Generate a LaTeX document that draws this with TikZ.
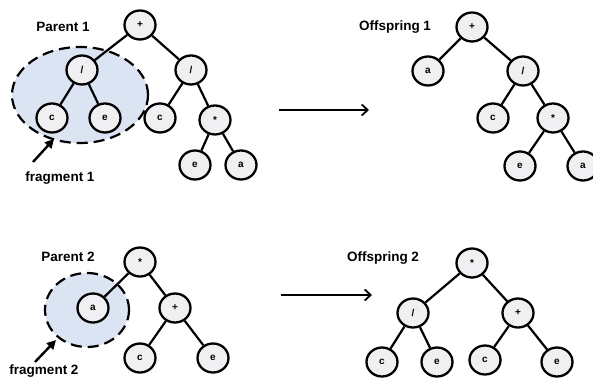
\documentclass[tikz,border=0pt]{standalone}
\usepackage{fontspec}
\setmainfont{Liberation Sans}
\usetikzlibrary{arrows.meta,shapes.geometric}
\definecolor{fragfill}{RGB}{218,228,242}
\definecolor{nodefill}{RGB}{240,240,242}
\begin{document}
\begin{tikzpicture}[x=1pt,y=-1pt,
  tn/.style={ellipse,draw=black,line width=2.3pt,fill=nodefill,minimum width=31pt,minimum height=29pt,inner sep=0pt,font=\bfseries\fontsize{10}{10}\selectfont},
  edge/.style={line width=2.2pt},
  lbl/.style={font=\bfseries\fontsize{13.5}{15}\selectfont,inner sep=0pt},
  frag/.style={draw=black,dash pattern=on 11pt off 6pt,line width=2.2pt,fill=fragfill},
  fragarrow/.style={line width=2.4pt,-{Triangle[length=9pt,width=9pt]}},
  bigarrow/.style={line width=1.8pt,-{Straight Barb[length=6pt,width=11pt]}}]
\useasboundingbox (0,0) rectangle (593,379);
% fragments
\node[frag,ellipse,minimum width=136pt,minimum height=96pt] (f1) at (80,95) {};
\node[frag,ellipse,minimum width=84pt,minimum height=74pt] (f2) at (87,310) {};
% Parent 1
\node[lbl] (p1) at (63,27) {Parent 1};
\node[tn] (a1) at (140,25) {+};
\node[tn] (a2) at (82,70) {/};
\node[tn] (a3) at (191,70) {/};
\node[tn] (a4) at (52,118) {c};
\node[tn] (a5) at (105,118) {e};
\node[tn] (a6) at (160,118) {c};
\node[tn] (a7) at (215,120) {*};
\node[tn] (a8) at (195,165) {e};
\node[tn] (a9) at (241,165) {a};
\draw[edge] (a1) -- (a2); \draw[edge] (a1) -- (a3);
\draw[edge] (a2) -- (a4); \draw[edge] (a2) -- (a5);
\draw[edge] (a3) -- (a6); \draw[edge] (a3) -- (a7);
\draw[edge] (a7) -- (a8); \draw[edge] (a7) -- (a9);
\node[lbl] (fl1) at (60,178) {fragment 1};
\coordinate (fa1) at (33,162);
\coordinate (fb1) at (54,139);
\draw[fragarrow] (fa1) -- (fb1);
% arrow 1
\coordinate (m1s) at (279,110);
\coordinate (m1e) at (369,110);
\draw[bigarrow] (m1s) -- (m1e);
% Offspring 1
\node[lbl] (o1) at (395,27) {Offspring 1};
\node[tn] (b1) at (472,27) {+};
\node[tn] (b2) at (428,71) {a};
\node[tn] (b3) at (523,71) {/};
\node[tn] (b4) at (493,118) {c};
\node[tn] (b5) at (553,118) {*};
\node[tn] (b6) at (520,166) {e};
\node[tn] (b7) at (583,166) {a};
\draw[edge] (b1) -- (b2); \draw[edge] (b1) -- (b3);
\draw[edge] (b3) -- (b4); \draw[edge] (b3) -- (b5);
\draw[edge] (b5) -- (b6); \draw[edge] (b5) -- (b7);
% Parent 2
\node[lbl] (p2) at (68,257) {Parent 2};
\node[tn] (c1) at (140,262) {*};
\node[tn] (c2) at (93,308) {a};
\node[tn] (c3) at (175,308) {+};
\node[tn] (c4) at (140,358) {c};
\node[tn] (c5) at (213,358) {e};
\draw[edge] (c1) -- (c2); \draw[edge] (c1) -- (c3);
\draw[edge] (c3) -- (c4); \draw[edge] (c3) -- (c5);
\node[lbl] (fl2) at (44,371) {fragment 2};
\coordinate (fa2) at (35,362);
\coordinate (fb2) at (56,340);
\draw[fragarrow] (fa2) -- (fb2);
% arrow 2
\coordinate (m2s) at (281,295);
\coordinate (m2e) at (372,295);
\draw[bigarrow] (m2s) -- (m2e);
% Offspring 2
\node[lbl] (o2) at (383,258) {Offspring 2};
\node[tn] (d1) at (472,263) {*};
\node[tn] (d2) at (413,313) {/};
\node[tn] (d3) at (518,313) {+};
\node[tn] (d4) at (382,362) {c};
\node[tn] (d5) at (437,362) {e};
\node[tn] (d6) at (485,360) {c};
\node[tn] (d7) at (557,362) {e};
\draw[edge] (d1) -- (d2); \draw[edge] (d1) -- (d3);
\draw[edge] (d2) -- (d4); \draw[edge] (d2) -- (d5);
\draw[edge] (d3) -- (d6); \draw[edge] (d3) -- (d7);
\end{tikzpicture}
\end{document}
